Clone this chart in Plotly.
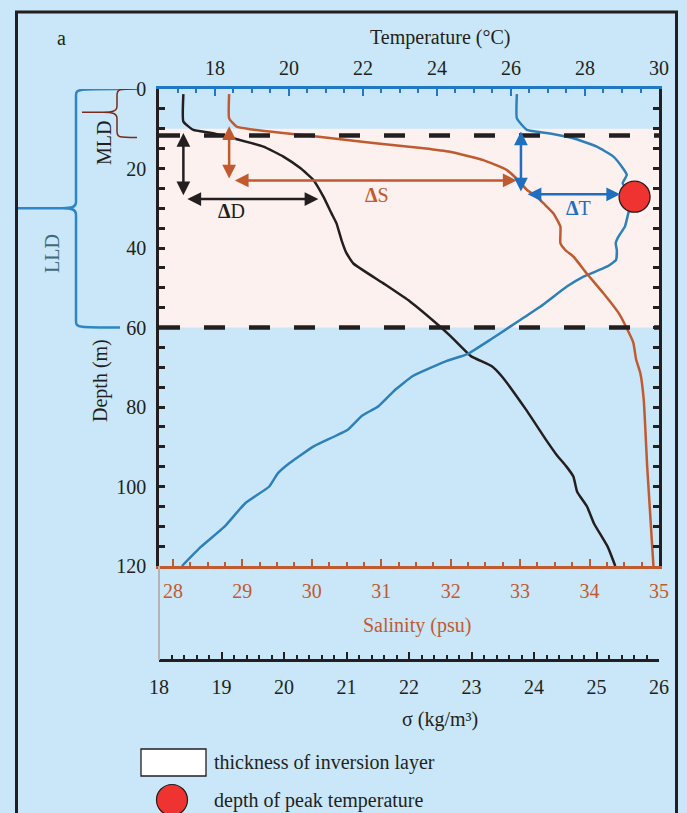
import plotly.graph_objects as go

# ---------------- data ----------------
sigma_depth = [1.3, 8.2, 10.3, 11.0, 12.2, 14.5, 17.0, 19.9, 22.9, 27.1, 31.3, 33.8, 38.0, 41.3, 43.9,
               48.9, 53.5, 59.8, 62.1, 67.2, 69.7, 72.2, 80.6, 88.2, 92.0, 95.0, 97.5, 101.3, 105.1,
               109.3, 115.2, 120.0]
sigma_vals = [18.39, 18.39, 18.55, 18.82, 19.14, 19.67, 19.99, 20.26, 20.47, 20.63, 20.76, 20.84, 20.92,
              21.00, 21.11, 21.59, 22.02, 22.50, 22.66, 22.99, 23.32, 23.48, 23.87, 24.19, 24.36, 24.52,
              24.63, 24.69, 24.85, 24.96, 25.18, 25.30]

temp_depth = [1.3, 7.4, 10.3, 11.2, 12.4, 14.5, 17.0, 20.0, 21.6, 23.7, 25.5, 27.1, 29.0, 31.3, 34.6,
              37.2, 38.8, 40.5, 43.0, 44.7, 47.2, 49.7, 54.8, 58.1, 61.5, 62.9, 66.7, 68.4, 72.2, 75.6,
              79.8, 82.3, 85.7, 89.9, 94.1, 96.7, 100.0, 104.2, 110.1, 115.2, 120.0]
temp_vals = [26.16, 26.16, 26.43, 27.06, 27.68, 28.32, 28.77, 29.03, 29.13, 29.02, 29.15, 29.30, 29.25,
             29.17, 29.08, 28.90, 28.83, 28.86, 28.84, 28.59, 27.96, 27.51, 26.79, 26.25, 25.70, 25.47,
             24.82, 24.27, 23.35, 22.88, 22.42, 21.96, 21.59, 20.67, 20.02, 19.70, 19.47, 18.82, 18.26,
             17.62, 17.11]

sal_depth = [1.3, 7.4, 9.5, 10.1, 11.0, 12.0, 13.5, 14.9, 15.8, 17.9, 20.4, 22.9, 25.4, 27.1, 28.8, 31.3,
             34.6, 38.8, 40.5, 42.2, 46.4, 51.4, 56.4, 60.0, 63.8, 68.0, 71.4, 78.1, 95.0, 120.0]
sal_vals = [28.81, 28.81, 28.92, 29.11, 29.55, 30.10, 30.85, 31.61, 31.99, 32.47, 32.81, 32.97, 33.10,
            33.24, 33.34, 33.48, 33.58, 33.58, 33.65, 33.77, 33.96, 34.20, 34.42, 34.53, 34.63, 34.67,
            34.73, 34.78, 34.83, 34.92]

mld = 11.7            # mixed layer depth (m)
inv_top = 10.0        # top of inversion layer (m)
lld = 60.0            # low-layer depth (m)
peak_depth = 27.1
peak_temp = 29.34

dD_vert = [18.39, 10.7, 26.7]      # sigma, depth from, depth to
dD_horiz = [27.7, 18.43, 20.55]    # depth, sigma from, sigma to
dS_vert = [28.81, 9.0, 22.5]
dS_horiz = [23.0, 28.87, 32.95]
dT_vert = [26.27, 10.3, 25.8]
dT_horiz = [26.5, 26.41, 28.95]

depth_ticks = [0, 20, 40, 60, 80, 100, 120]
temp_ticks = [18, 20, 22, 24, 26, 28, 30]
sal_ticks = [28, 29, 30, 31, 32, 33, 34, 35]
sigma_ticks = [18, 19, 20, 21, 22, 23, 24, 25, 26]

# ---------------- styling ----------------
W, H = 687, 813
ML, MR, MT, MB = 159, 28, 89, 40
PW = W - ML - MR
PH = H - MT - MB


def xp(px):
    return (px - ML) / PW


def yp(py):
    return (H - MB - py) / PH


BG = "#C9E7F8"
PINK = "#FCF1EF"
BLACK = "#231F20"
ORANGE = "#C15A2E"
BLUE = "#2E80BA"
BLUE_AX = "#1F78C8"
BLUE_AR = "#1F6EC0"
RED = "#EE3330"
FONT = "Liberation Serif"
FS = 20

fig = go.Figure()

fig.add_trace(go.Scatter(x=sigma_vals, y=sigma_depth, xaxis="x", yaxis="y", mode="lines",
                         line=dict(color=BLACK, width=2.5, shape="spline", smoothing=0.4), hoverinfo="skip"))
fig.add_trace(go.Scatter(x=temp_vals, y=temp_depth, xaxis="x2", yaxis="y", mode="lines",
                         line=dict(color=BLUE, width=2.5, shape="spline", smoothing=0.4), hoverinfo="skip"))
fig.add_trace(go.Scatter(x=sal_vals, y=sal_depth, xaxis="x3", yaxis="y", mode="lines",
                         line=dict(color=ORANGE, width=2.5, shape="spline", smoothing=0.4), hoverinfo="skip"))
fig.add_trace(go.Scatter(x=[peak_temp], y=[peak_depth], xaxis="x2", yaxis="y", mode="markers",
                         marker=dict(size=31, color=RED, line=dict(color=BLACK, width=1.3)),
                         hoverinfo="skip"))

shapes = []
# inversion layer shading
shapes.append(dict(type="rect", xref="paper", yref="y", x0=0, x1=1, y0=inv_top, y1=lld,
                   fillcolor=PINK, line=dict(width=0), layer="below"))
# dashed lines
for d in (mld, lld):
    shapes.append(dict(type="line", xref="paper", yref="y", x0=0, x1=1, y0=d, y1=d,
                       line=dict(color=BLACK, width=4.5, dash="21px,24px"), layer="above"))
# grey connector between salinity axis and sigma axis
shapes.append(dict(type="line", xref="paper", yref="paper", x0=0, x1=0, y0=yp(566), y1=yp(660),
                   line=dict(color="#B4B4B4", width=2)))


# braces
def brace(xr, xv, xt, top, mid, bot, color, width):
    r = 1.6
    p = (f"M {xp(xr)},{top} C {xp(xv + 2)},{top} {xp(xv)},{top} {xp(xv)},{top + r} "
         f"L {xp(xv)},{mid - r} C {xp(xv)},{mid - 0.3} {xp(xv - 4)},{mid} {xp(xv - 14)},{mid} "
         f"L {xp(xt)},{mid} M {xp(xv - 14)},{mid} C {xp(xv - 4)},{mid} {xp(xv)},{mid + 0.3} {xp(xv)},{mid + r} "
         f"L {xp(xv)},{bot - r} C {xp(xv)},{bot} {xp(xv + 2)},{bot} {xp(xr)},{bot}")
    return dict(type="path", xref="paper", yref="y", path=p, line=dict(color=color, width=width))


shapes.append(brace(120, 76, 18, 0, (lld) / 2, lld, "#2E86C8", 2.5))
shapes.append(brace(137, 117, 82, 0, mld / 2, mld + 0.5, "#7A2A1A", 1.5))

# legend box and circle
shapes.append(dict(type="rect", xref="paper", yref="paper", x0=xp(141), x1=xp(206), y0=yp(776), y1=yp(749),
                   fillcolor="white", line=dict(color=BLACK, width=1.3)))
shapes.append(dict(type="circle", xref="paper", yref="paper", x0=xp(156.5), x1=xp(187.5), y0=yp(815.5),
                   y1=yp(784.5), fillcolor=RED, line=dict(color=BLACK, width=1.2)))
# outer frame
shapes.append(dict(type="rect", xref="paper", yref="paper", x0=xp(16.5), x1=xp(676.5), y0=yp(840), y1=yp(12),
                   line=dict(color=BLACK, width=3), fillcolor="rgba(0,0,0,0)"))

annotations = []


def txt(text, x, y, color=BLACK, size=FS, angle=0, xanchor="center", xref="paper", yref="paper"):
    annotations.append(dict(text=text, x=x, y=y, xref=xref, yref=yref, showarrow=False,
                            font=dict(family=FONT, size=size, color=color), textangle=angle,
                            xanchor=xanchor, yanchor="middle"))


txt("a", xp(61), yp(38))
txt("Temperature (°C)", xp(440), yp(37))
txt("Salinity (psu)", xp(417), yp(625), color=ORANGE)
txt("σ (kg/m³)", xp(440), yp(719))
txt("Depth (m)", xp(100), yp(381), angle=-90)
txt("MLD", xp(104), yp(143), angle=-90)
txt("LLD", xp(52), yp(254), angle=-90, color="#3F6A7A")
txt("thickness of inversion layer", xp(212), yp(762), xanchor="left")
txt("depth of peak temperature", xp(212), yp(800), xanchor="left")
txt("<b>Δ</b>D", 19.16, 30.8, xref="x", yref="y")
txt("<b>Δ</b>S", 30.94, 26.6, color=ORANGE, xref="x3", yref="y")
txt("<b>Δ</b>T", 27.82, 30.0, color=BLUE_AR, xref="x2", yref="y")


def darrow(xr, x0, y0, x1, y1, color):
    annotations.append(dict(text="", showarrow=True, xref=xr, yref="y", axref=xr, ayref="y",
                            x=x1, y=y1, ax=x0, ay=y0, arrowside="end+start",
                            arrowhead=2, startarrowhead=2, arrowsize=1.1, startarrowsize=1.1,
                            arrowwidth=2.5, arrowcolor=color, standoff=0, startstandoff=0))


darrow("x", dD_vert[0], dD_vert[1], dD_vert[0], dD_vert[2], BLACK)
darrow("x", dD_horiz[1], dD_horiz[0], dD_horiz[2], dD_horiz[0], BLACK)
darrow("x3", dS_vert[0], dS_vert[1], dS_vert[0], dS_vert[2], ORANGE)
darrow("x3", dS_horiz[1], dS_horiz[0], dS_horiz[2], dS_horiz[0], ORANGE)
darrow("x2", dT_vert[0], dT_vert[1], dT_vert[0], dT_vert[2], BLUE_AR)
darrow("x2", dT_horiz[1], dT_horiz[0], dT_horiz[2], dT_horiz[0], BLUE_AR)

tickfont = dict(family=FONT, size=FS, color=BLACK)

fig.update_layout(
    width=W, height=H,
    margin=dict(l=ML, r=MR, t=MT, b=MB, pad=0),
    paper_bgcolor=BG, plot_bgcolor=BG,
    showlegend=False,
    font=dict(family=FONT, size=FS, color=BLACK),
    shapes=shapes, annotations=annotations,
    xaxis=dict(range=[sigma_ticks[0], sigma_ticks[-1]], domain=[0, 1], anchor="free", position=yp(660),
               side="bottom", showline=True, linecolor=BLACK, linewidth=2.5,
               ticks="inside", ticklen=7, tickwidth=2, tickcolor=BLACK, tickvals=sigma_ticks,
               minor=dict(tickmode="linear", tick0=sigma_ticks[0], dtick=0.2, ticks="inside", ticklen=4,
                          tickwidth=1.5, tickcolor=BLACK),
               tickfont=tickfont, ticklabelstandoff=8, showgrid=False, zeroline=False, fixedrange=True),
    xaxis2=dict(range=[16.49, temp_ticks[-1]], overlaying="x", anchor="y", side="top",
                showline=True, linecolor=BLUE_AX, linewidth=2.5,
                ticks="inside", ticklen=7, tickwidth=2, tickcolor=BLUE_AX, tickvals=temp_ticks,
                minor=dict(tickmode="linear", tick0=temp_ticks[0], dtick=0.5, ticks="inside", ticklen=4,
                           tickwidth=1.5, tickcolor=BLUE_AX),
                tickfont=tickfont, ticklabelstandoff=3, showgrid=False, zeroline=False),
    xaxis3=dict(range=[27.8, sal_ticks[-1]], overlaying="x", anchor="y", side="bottom",
                showline=True, linecolor=ORANGE, linewidth=2.5,
                ticks="inside", ticklen=7, tickwidth=2, tickcolor=ORANGE, tickvals=sal_ticks,
                minor=dict(tickmode="linear", tick0=sal_ticks[0], dtick=0.25, ticks="inside", ticklen=4,
                           tickwidth=1.5, tickcolor=ORANGE),
                tickfont=dict(family=FONT, size=FS, color=ORANGE), ticklabelstandoff=5,
                showgrid=False, zeroline=False),
    yaxis=dict(range=[depth_ticks[-1], depth_ticks[0]], domain=[yp(566), 1], anchor="x",
               showline=True, linecolor=BLACK, linewidth=2.5, mirror="ticks",
               ticks="inside", ticklen=6, tickwidth=2.5, tickcolor=BLACK, tickvals=depth_ticks,
               minor=dict(tickmode="linear", tick0=0, dtick=5, ticks="inside", ticklen=6,
                          tickwidth=2.5, tickcolor=BLACK),
               tickfont=tickfont, ticklabelstandoff=6, showgrid=False, zeroline=False),
)

fig.write_html("out.html", config={"displayModeBar": False},
               post_script="document.body.style.margin='0px';")
